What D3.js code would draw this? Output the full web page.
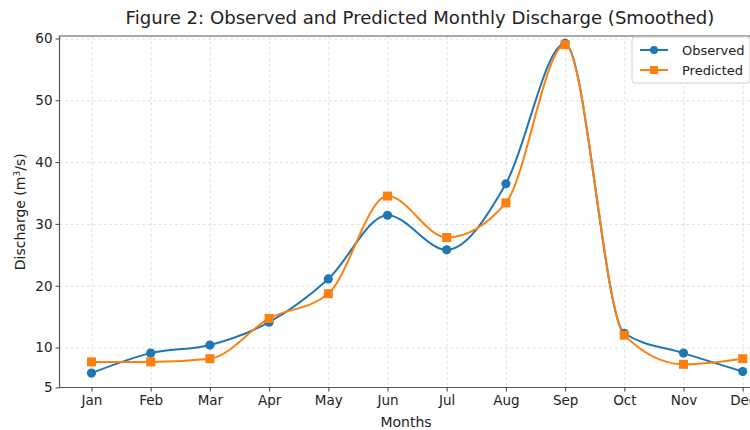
<!DOCTYPE html>
<html>
<head>
<meta charset="utf-8">
<script src="https://cdn.jsdelivr.net/npm/d3@7"></script>
<style>
  html, body { margin: 0; padding: 0; background: #fff; }
  svg { display: block; }
  text { font-family: "DejaVu Sans", sans-serif; fill: #222; }
</style>
</head>
<body>
<svg id="chart" width="750" height="430"></svg>
<script>
// Monthly discharge, observed vs model prediction (m³/s)
const months = ["Jan", "Feb", "Mar", "Apr", "May", "Jun", "Jul", "Aug", "Sep", "Oct", "Nov", "Dec"];
const observed = [6.8, 9.3, 10.4, 14.1, 21.1, 31.4, 25.8, 36.5, 59.2, 12.3, 9.3, 7.0];
const predicted = [8.2, 8.2, 8.6, 14.7, 18.7, 34.5, 27.8, 33.4, 59.0, 12.0, 7.9, 8.6];
const yTicks = [5, 10, 20, 30, 40, 50, 60];

const svg = d3.select("#chart");

// plot frame (right edge runs past the visible canvas)
const frame = { left: 59.5, right: 775, top: 36, bottom: 387.5 };

const x = d3.scalePoint()
  .domain(months)
  .range([91.5, 742.7]);

// the value axis is compressed between 5 and 10
const y = d3.scaleLinear()
  .domain([5, 10, 60])
  .range([frame.bottom, 347.5, 38.5]);

const blue = "#1f77b4";
const orange = "#ff7f0e";

// grid
const grid = svg.append("g").attr("stroke", "#d9d9d9").attr("stroke-width", 0.8)
  .attr("stroke-dasharray", "3,2.5");
grid.selectAll("line.h").data(yTicks.filter(t => t !== 5)).join("line")
  .attr("x1", frame.left).attr("x2", frame.right)
  .attr("y1", d => y(d) + 0.5).attr("y2", d => y(d) + 0.5);
grid.selectAll("line.v").data(months).join("line")
  .attr("y1", frame.top).attr("y2", frame.bottom)
  .attr("x1", d => x(d) + 0.5).attr("x2", d => x(d) + 0.5);

// axes
const yAxis = d3.axisLeft(y).tickValues(yTicks).tickSize(4).tickPadding(3);
const gy = svg.append("g").attr("transform", `translate(${frame.left},0)`).call(yAxis);
gy.select(".domain").remove();
gy.selectAll(".tick line").attr("stroke", "#444");
gy.selectAll("text").attr("font-size", 13.5).style("fill", "#222");

const xAxis = d3.axisBottom(x).tickSize(4).tickPadding(4);
const gx = svg.append("g").attr("transform", `translate(0,${frame.bottom})`).call(xAxis);
gx.select(".domain").remove();
gx.selectAll(".tick line").attr("stroke", "#444");
gx.selectAll("text").attr("font-size", 13.5).style("fill", "#222");

// spines
svg.append("path")
  .attr("d", `M${frame.right},${frame.top}H${frame.left}V${frame.bottom}H${frame.right}`)
  .attr("fill", "none").attr("stroke", "#555").attr("stroke-width", 1.2);

// smoothed series (shape-preserving interpolation)
const line = d3.line()
  .x((d, i) => x(months[i]))
  .y(d => y(d))
  .curve(d3.curveMonotoneX);

svg.append("path").datum(observed).attr("d", line)
  .attr("fill", "none").attr("stroke", blue).attr("stroke-width", 2);
svg.append("path").datum(predicted).attr("d", line)
  .attr("fill", "none").attr("stroke", orange).attr("stroke-width", 2);

svg.append("g").selectAll("circle").data(observed).join("circle")
  .attr("cx", (d, i) => x(months[i])).attr("cy", d => y(d))
  .attr("r", 4.6).attr("fill", blue);
svg.append("g").selectAll("rect").data(predicted).join("rect")
  .attr("x", (d, i) => x(months[i]) - 4.5).attr("y", d => y(d) - 4.5)
  .attr("width", 9).attr("height", 9).attr("fill", orange);

// titles
svg.append("text").attr("x", 420).attr("y", 24).attr("text-anchor", "middle")
  .attr("font-size", 18.1).text("Figure 2: Observed and Predicted Monthly Discharge (Smoothed)");
svg.append("text").attr("x", 406).attr("y", 427).attr("text-anchor", "middle")
  .attr("font-size", 14).text("Months");
const yl = svg.append("text")
  .attr("transform", `translate(25,${(frame.top + frame.bottom) / 2}) rotate(-90)`)
  .attr("text-anchor", "middle").attr("font-size", 14);
yl.append("tspan").text("Discharge (m");
yl.append("tspan").attr("font-size", 9).attr("dy", -5).text("3");
yl.append("tspan").attr("dy", 5).text("/s)");

// legend
const lg = svg.append("g").attr("transform", "translate(632,37)");
lg.append("rect").attr("width", 118).attr("height", 46).attr("rx", 3)
  .attr("fill", "#fff").attr("fill-opacity", 0.85).attr("stroke", "#d0d0d0");
const entries = [
  { name: "Observed", color: blue, shape: "circle" },
  { name: "Predicted", color: orange, shape: "square" }
];
entries.forEach((e, i) => {
  const g = lg.append("g").attr("transform", `translate(0,${13 + i * 20})`);
  g.append("line").attr("x1", 8).attr("x2", 36).attr("stroke", e.color).attr("stroke-width", 2);
  if (e.shape === "circle") g.append("circle").attr("cx", 22).attr("r", 4).attr("fill", e.color);
  else g.append("rect").attr("x", 18).attr("y", -4).attr("width", 8).attr("height", 8).attr("fill", e.color);
  g.append("text").attr("x", 50).attr("dy", "0.35em").attr("font-size", 13).text(e.name);
});
</script>
</body>
</html>
